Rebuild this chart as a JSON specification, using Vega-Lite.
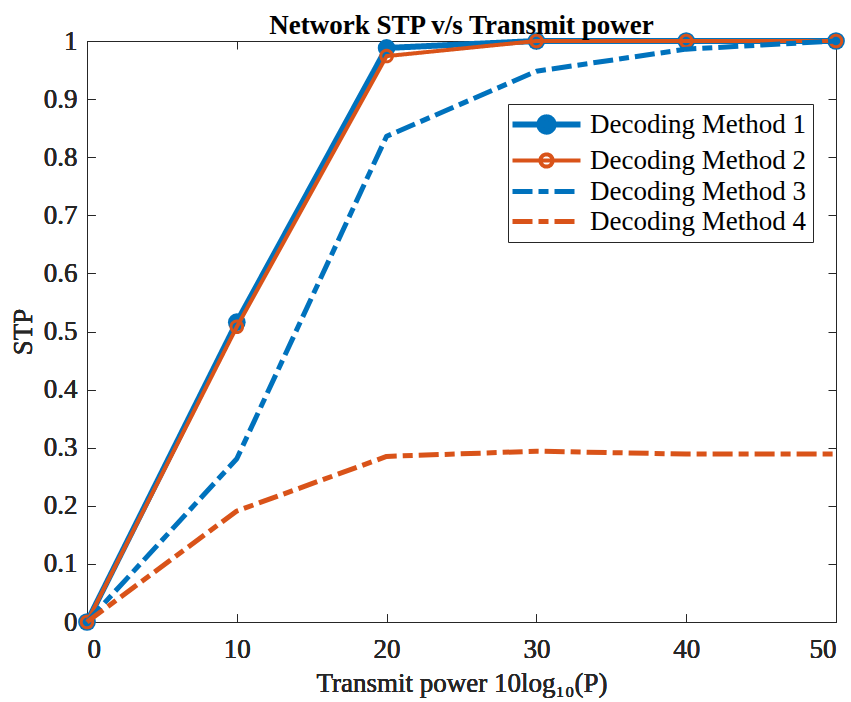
{
  "$schema": "https://vega.github.io/schema/vega-lite/v6.json",
  "width": 749,
  "height": 581,
  "autosize": {"type": "none"},
  "padding": {"left": 87, "top": 41, "right": 15, "bottom": 80},
  "background": "white",
  "config": {
    "font": "Liberation Serif",
    "view": {"stroke": null},
    "axis": {
      "grid": false,
      "domainColor": "#262626",
      "domainWidth": 1,
      "tickColor": "#262626",
      "tickWidth": 1,
      "tickSize": -8,
      "labelColor": "#262626",
      "labelFont": "Liberation Serif",
      "labelFontSize": 27,
      "titleFont": "Liberation Serif",
      "titleFontSize": 27,
      "titleFontWeight": "normal",
      "titleColor": "#262626"
    }
  },
  "title": {
    "text": "Network STP v/s Transmit power",
    "font": "Liberation Serif",
    "fontSize": 27,
    "fontWeight": "bold",
    "color": "black",
    "anchor": "middle",
    "baseline": "alphabetic",
    "offset": -34
  },
  "data": {
    "values": [
      {"x": 0, "stp": 0, "method": "Decoding Method 1"},
      {"x": 10, "stp": 0.516, "method": "Decoding Method 1"},
      {"x": 20, "stp": 0.988, "method": "Decoding Method 1"},
      {"x": 30, "stp": 1, "method": "Decoding Method 1"},
      {"x": 40, "stp": 1, "method": "Decoding Method 1"},
      {"x": 50, "stp": 1, "method": "Decoding Method 1"},
      {"x": 0, "stp": 0, "method": "Decoding Method 2"},
      {"x": 10, "stp": 0.508, "method": "Decoding Method 2"},
      {"x": 20, "stp": 0.974, "method": "Decoding Method 2"},
      {"x": 30, "stp": 1, "method": "Decoding Method 2"},
      {"x": 40, "stp": 1, "method": "Decoding Method 2"},
      {"x": 50, "stp": 1, "method": "Decoding Method 2"},
      {"x": 0, "stp": 0, "method": "Decoding Method 3"},
      {"x": 10, "stp": 0.281, "method": "Decoding Method 3"},
      {"x": 20, "stp": 0.836, "method": "Decoding Method 3"},
      {"x": 30, "stp": 0.948, "method": "Decoding Method 3"},
      {"x": 40, "stp": 0.986, "method": "Decoding Method 3"},
      {"x": 50, "stp": 1, "method": "Decoding Method 3"},
      {"x": 0, "stp": 0, "method": "Decoding Method 4"},
      {"x": 10, "stp": 0.191, "method": "Decoding Method 4"},
      {"x": 20, "stp": 0.285, "method": "Decoding Method 4"},
      {"x": 30, "stp": 0.294, "method": "Decoding Method 4"},
      {"x": 40, "stp": 0.289, "method": "Decoding Method 4"},
      {"x": 50, "stp": 0.289, "method": "Decoding Method 4"}
    ]
  },
  "encoding": {
    "x": {
      "field": "x",
      "type": "quantitative",
      "scale": {"domain": [0, 50], "nice": false, "zero": false},
      "axis": {
        "orient": "bottom",
        "values": [0, 10, 20, 30, 40, 50],
        "labelPadding": 22,
        "title": "Transmit power 10log₁₀(P)",
        "titleBaseline": "alphabetic",
        "titleY": 69
      }
    },
    "y": {
      "field": "stp",
      "type": "quantitative",
      "scale": {"domain": [0, 1], "nice": false, "zero": false},
      "axis": {
        "orient": "left",
        "values": [0, 0.1, 0.2, 0.3, 0.4, 0.5, 0.6, 0.7, 0.8, 0.9, 1],
        "format": "~g",
        "labelPadding": 18,
        "title": "STP",
        "titleBaseline": "alphabetic",
        "titleX": -56
      }
    },
    "color": {
      "field": "method",
      "type": "nominal",
      "scale": {
        "domain": ["Decoding Method 1", "Decoding Method 2", "Decoding Method 3", "Decoding Method 4"],
        "range": ["#0072BD", "#D95319", "#0072BD", "#D95319"]
      },
      "legend": {
        "orient": "none",
        "legendX": 421,
        "legendY": 63,
        "title": null,
        "strokeColor": "#262626",
        "fillColor": "white",
        "padding": 7,
        "rowPadding": 2,
        "labelFont": "Liberation Serif",
        "labelFontSize": 27,
        "labelColor": "black",
        "labelLimit": 400,
        "labelOffset": 30,
        "symbolOffset": 18,
        "symbolSize": 4624,
        "symbolType": "stroke",
        "encode": {
          "symbols": {
            "update": {
              "shape": {"signal": "datum.value === 'Decoding Method 1' ? 'M-1,0H1M0.21,0A0.21,0.21 0 1,1 -0.21,0A0.21,0.21 0 1,1 0.21,0Z' : datum.value === 'Decoding Method 2' ? 'M-1,0H1M0.18,0A0.18,0.18 0 1,1 -0.18,0A0.18,0.18 0 1,1 0.18,0Z' : 'stroke'"},
              "fill": {"signal": "datum.value === 'Decoding Method 1' ? '#0072BD' : 'transparent'"},
              "strokeWidth": {"signal": "datum.value === 'Decoding Method 1' ? 6 : datum.value === 'Decoding Method 2' ? 4 : 5"},
              "strokeDash": {"signal": "datum.value === 'Decoding Method 3' || datum.value === 'Decoding Method 4' ? [20, 6, 10, 6] : [1, 0]"}
            }
          }
        }
      }
    },
    "strokeDash": {
      "field": "method",
      "type": "nominal",
      "scale": {
        "domain": ["Decoding Method 1", "Decoding Method 2", "Decoding Method 3", "Decoding Method 4"],
        "range": [[1, 0], [1, 0], [20, 6, 10, 6], [20, 6, 10, 6]]
      },
      "legend": null
    }
  },
  "layer": [
    {
      "transform": [{"filter": "datum.method === 'Decoding Method 1'"}],
      "mark": {"type": "line", "strokeWidth": 6, "strokeJoin": "round", "clip": false}
    },
    {
      "transform": [{"filter": "datum.method === 'Decoding Method 1'"}],
      "mark": {"type": "point", "shape": "circle", "filled": true, "size": 314, "opacity": 1, "color": "#0072BD", "clip": false},
      "encoding": {"color": {"value": "#0072BD"}, "strokeDash": {"value": [1, 0]}}
    },
    {
      "transform": [{"filter": "datum.method === 'Decoding Method 2'"}],
      "mark": {"type": "line", "strokeWidth": 4, "strokeJoin": "round", "clip": false}
    },
    {
      "transform": [{"filter": "datum.method === 'Decoding Method 2'"}],
      "mark": {"type": "point", "shape": "circle", "filled": false, "size": 133, "strokeWidth": 3, "opacity": 1, "clip": false},
      "encoding": {"color": {"value": "#D95319"}, "strokeDash": {"value": [1, 0]}}
    },
    {
      "transform": [{"filter": "datum.method === 'Decoding Method 3' || datum.method === 'Decoding Method 4'"}],
      "mark": {"type": "line", "strokeWidth": 5, "strokeJoin": "round", "strokeCap": "butt", "clip": false},
      "encoding": {
        "x": {
          "field": "x",
          "type": "quantitative",
          "scale": {"domain": [0, 50], "nice": false, "zero": false},
          "axis": {"orient": "top", "values": [0, 10, 20, 30, 40, 50], "labels": false, "title": null}
        },
        "y": {
          "field": "stp",
          "type": "quantitative",
          "scale": {"domain": [0, 1], "nice": false, "zero": false},
          "axis": {"orient": "right", "values": [0, 0.1, 0.2, 0.3, 0.4, 0.5, 0.6, 0.7, 0.8, 0.9, 1], "labels": false, "title": null}
        }
      }
    }
  ]
}
